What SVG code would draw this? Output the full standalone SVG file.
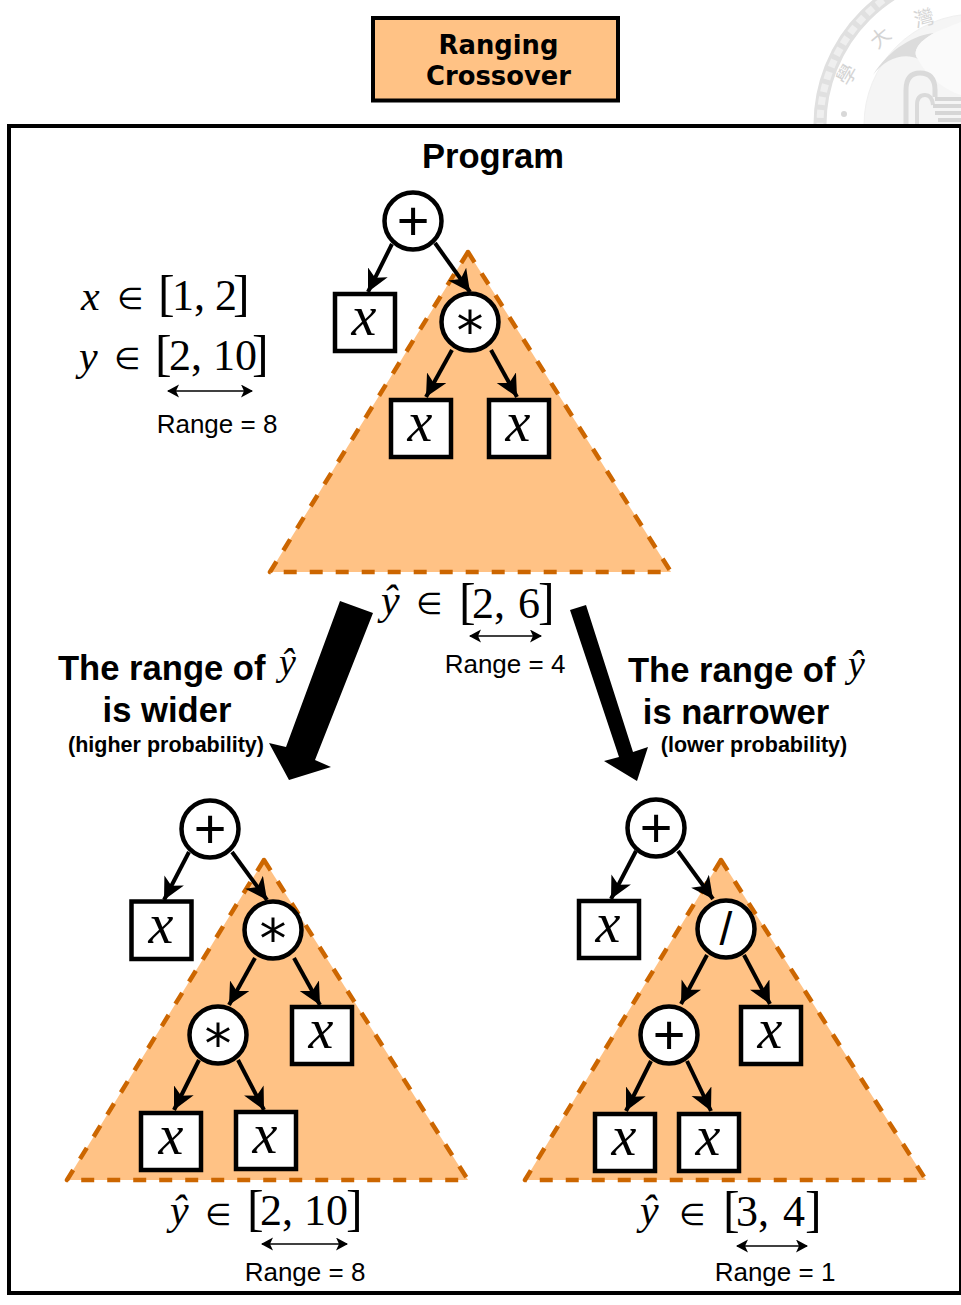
<svg xmlns="http://www.w3.org/2000/svg" width="961" height="1305" viewBox="0 0 961 1305">
<style>
.tri{fill:#FFC285;stroke:#CC6600;stroke-width:4.5;stroke-dasharray:13 13;stroke-linejoin:round}
.c{fill:#fff;stroke:#000;stroke-width:4.5}
.b{fill:#fff;stroke:#000;stroke-width:4.5}
.m{font-family:"Liberation Serif",serif;fill:#000;font-size:44px}
.el{font-family:"DejaVu Sans",sans-serif;fill:#000;font-size:30px}
.br{font-size:50px}
.mi{font-family:"Liberation Serif",serif;font-style:italic;fill:#000;font-size:42px}
.plus{font-family:"Liberation Sans",sans-serif;font-size:56px;text-anchor:middle;fill:#000}
.star{font-family:"DejaVu Sans",sans-serif;font-size:54px;text-anchor:middle;fill:#000}
.div{font-family:"Liberation Sans",sans-serif;font-size:46px;text-anchor:middle;fill:#000}
.var{font-family:"Liberation Serif",serif;font-style:italic;font-size:56px;text-anchor:middle;fill:#000}
.s{font-family:"Liberation Sans",sans-serif;fill:#000;font-size:26px;text-anchor:middle}
.bd{font-family:"Liberation Sans",sans-serif;font-weight:bold;fill:#000;font-size:34.600px}
.sm{font-size:21.500px;text-anchor:middle}
.ttl{font-family:"DejaVu Sans",sans-serif;font-weight:bold;font-size:25.800px;text-anchor:middle;fill:#000}
.hat{font-family:"Liberation Serif",serif;font-style:italic;font-weight:normal;fill:#000;font-size:38px}
.e{stroke:#000;stroke-width:4;fill:none;marker-end:url(#ah)}
.r{stroke:#000;stroke-width:1.7;fill:none;marker-start:url(#sa);marker-end:url(#sa)}
.sl{fill:none;stroke:#e0e0e0}
.sg{font-family:"Noto Sans CJK TC",sans-serif;font-size:20px;fill:#d4d4d4;text-anchor:middle}
</style>
<defs>
<marker id="ah" markerUnits="userSpaceOnUse" markerWidth="26" markerHeight="26" refX="22" refY="11" orient="auto"><path d="M0 0L22 11L0 22L6 11Z" fill="#000"/></marker>
<marker id="sa" markerUnits="userSpaceOnUse" markerWidth="14" markerHeight="14" refX="11" refY="6.500" orient="auto-start-reverse"><path d="M0 0L12 6.500L0 13L3 6.500Z" fill="#000"/></marker>
<clipPath id="top"><rect x="780" y="0" width="181" height="124"/></clipPath>
</defs>
<rect width="961" height="1305" fill="#fff"/>
<g id="seal" clip-path="url(#top)">
<circle class="sl" cx="975" cy="125" r="155" stroke-width="13"/>
<circle class="sl" cx="975" cy="125" r="155" stroke-width="7" stroke-dasharray="8 5" style="stroke:#efefef"/>
<circle cx="975" cy="125" r="111" fill="#f5f5f5" stroke="#f0f0f0" stroke-width="1"/>
<path d="M873 75C890 48 915 35 934 33C918 42 912 52 918 59C905 52 885 58 873 75Z" fill="#dcdcdc"/>
<path d="M934 33C960 22 961 22 961 22V95C945 90 925 75 918 59C912 52 918 42 934 33Z" fill="#fafafa"/>
<path class="sl" d="M906 124V90Q906 73 920 73Q935 73 935 90V97" stroke-width="5" style="stroke:#dadada"/>
<path class="sl" d="M917 124V105Q917 95 925 95Q932 95 933 105" stroke-width="4" style="stroke:#dadada"/>
<path class="sl" d="M935 99H961M933 106H961M935 113H961M938 120H961" stroke-width="4" style="stroke:#d6d6d6"/>
<circle cx="844" cy="114" r="3" fill="#d8d8d8"/>
<text class="sg" transform="translate(853 78) rotate(-60)">學</text>
<text class="sg" transform="translate(885 43) rotate(-40)">大</text>
<text class="sg" transform="translate(926 25) rotate(-15)">灣</text>
</g>
<rect id="frame" x="9" y="126" width="952" height="1167" fill="none" stroke="#000" stroke-width="4"/>
<g id="title"><rect x="373" y="18" width="245" height="82.500" fill="#FFC285" stroke="#000" stroke-width="4"/>
<text class="ttl" x="498.500" y="54">Ranging</text>
<text class="ttl" x="498.500" y="85">Crossover</text></g>
<text id="program" class="bd" x="493" y="168" text-anchor="middle">Program</text>
<polygon class="tri" points="468,252 270,572 671,572"/>
<polygon class="tri" points="264,860 67,1180 468,1180"/>
<polygon class="tri" points="721,860 525,1180 926,1180"/>
<g id="connectors">
<path class="e" d="M392 244L368 292"/><path class="e" d="M435 243L470 292"/><path class="e" d="M452 350L426 397"/><path class="e" d="M491 350L517 397"/>
<path class="e" d="M189 852L164 900"/><path class="e" d="M232 852L267 900"/><path class="e" d="M255 958L229 1005"/><path class="e" d="M294 958L320 1005"/><path class="e" d="M199 1060L174 1110"/><path class="e" d="M238 1060L264 1110"/>
<path class="e" d="M636 851L611 899"/><path class="e" d="M678 851L713 899"/><path class="e" d="M707 955L681 1004"/><path class="e" d="M744 955L770 1004"/><path class="e" d="M651 1061L626 1111"/><path class="e" d="M687 1061L711 1111"/>
<polygon points="340,601 373,613 315,760 331,767 289,780 269,743 286,747" fill="#000"/>
<polygon points="570,610 586,605 633,752 648,747 637,781 604,761 619,757" fill="#000"/>
</g>
<g id="n1"><circle class="c" cx="413" cy="221" r="28.500"/><text class="plus" x="413" y="240">+</text></g>
<g id="n2"><rect class="b" x="335" y="294" width="60" height="57"/><text class="var" x="364" y="335">x</text></g>
<g id="n3"><circle class="c" cx="470" cy="322" r="28.500"/><text class="star" x="470" y="349">*</text></g>
<g id="n4"><rect class="b" x="391" y="400" width="60" height="57"/><text class="var" x="420" y="441">x</text></g>
<g id="n5"><rect class="b" x="489" y="400" width="60" height="57"/><text class="var" x="518" y="441">x</text></g>
<g id="l1"><circle class="c" cx="210" cy="829" r="28.500"/><text class="plus" x="210" y="848">+</text></g>
<g id="l2"><rect class="b" x="131.500" y="901.500" width="60" height="57.500"/><text class="var" x="161" y="943">x</text></g>
<g id="l3"><circle class="c" cx="273" cy="930" r="28.500"/><text class="star" x="273" y="957">*</text></g>
<g id="l4"><circle class="c" cx="218" cy="1035" r="28.500"/><text class="star" x="218" y="1062">*</text></g>
<g id="l5"><rect class="b" x="292" y="1007" width="60" height="57"/><text class="var" x="321" y="1048">x</text></g>
<g id="l6"><rect class="b" x="141" y="1113" width="60" height="57"/><text class="var" x="171" y="1154">x</text></g>
<g id="l7"><rect class="b" x="236" y="1112" width="60" height="57"/><text class="var" x="265" y="1153">x</text></g>
<g id="r1"><circle class="c" cx="656" cy="828" r="28.500"/><text class="plus" x="656" y="847">+</text></g>
<g id="r2"><rect class="b" x="579" y="901" width="60" height="57"/><text class="var" x="608" y="942">x</text></g>
<g id="r3"><circle class="c" cx="726" cy="929" r="28.500"/><text class="div" x="726" y="945">/</text></g>
<g id="r4"><circle class="c" cx="669" cy="1035" r="28.500"/><text class="plus" x="669" y="1054">+</text></g>
<g id="r5"><rect class="b" x="741" y="1007" width="60" height="57"/><text class="var" x="770" y="1048">x</text></g>
<g id="r6"><rect class="b" x="595" y="1114" width="60" height="57"/><text class="var" x="624" y="1155">x</text></g>
<g id="r7"><rect class="b" x="679" y="1114" width="60" height="57"/><text class="var" x="708" y="1155">x</text></g>
<g id="domain">
<text class="mi" x="81" y="310">x</text><text class="el" x="117" y="309">∈</text>
<text class="m" y="310"><tspan class="br" x="158">[</tspan><tspan x="172">1,</tspan><tspan x="215">2</tspan><tspan class="br" x="233">]</tspan></text>
<text class="mi" x="79" y="370">y</text><text class="el" x="114" y="369">∈</text>
<text class="m" y="370"><tspan class="br" x="155">[</tspan><tspan x="169">2,</tspan><tspan x="213">10</tspan><tspan class="br" x="252">]</tspan></text>
<path class="r" d="M168 391H252"/><text class="s" x="217" y="433">Range = 8</text>
</g>
<g id="out0">
<text class="mi" x="381" y="614">ŷ</text><text class="el" x="416" y="614">∈</text>
<text class="m" y="618"><tspan class="br" x="459">[</tspan><tspan x="472">2,</tspan><tspan x="518">6</tspan><tspan class="br" x="538">]</tspan></text>
<path class="r" d="M470 636H541"/><text class="s" x="505" y="673">Range = 4</text>
</g>
<g id="out1">
<text class="mi" x="170" y="1224">ŷ</text><text class="el" x="205" y="1225">∈</text>
<text class="m" y="1225"><tspan class="br" x="247">[</tspan><tspan x="260">2,</tspan><tspan x="304">10</tspan><tspan class="br" x="346">]</tspan></text>
<path class="r" d="M262 1244H347"/><text class="s" x="305" y="1281">Range = 8</text>
</g>
<g id="out2">
<text class="mi" x="640" y="1224">ŷ</text><text class="el" x="679" y="1225">∈</text>
<text class="m" y="1226"><tspan class="br" x="723">[</tspan><tspan x="736">3,</tspan><tspan x="783">4</tspan><tspan class="br" x="805">]</tspan></text>
<path class="r" d="M737 1246H807"/><text class="s" x="775" y="1281">Range = 1</text>
</g>
<g id="labels">
<text class="bd" x="58" y="680">The range of <tspan class="hat" x="279" y="675">ŷ</tspan></text>
<text class="bd" x="167" y="722" text-anchor="middle">is wider</text>
<text class="bd sm" x="166" y="752">(higher probability)</text>
<text class="bd" x="628" y="682">The range of <tspan class="hat" x="848" y="677">ŷ</tspan></text>
<text class="bd" x="736" y="724" text-anchor="middle">is narrower</text>
<text class="bd sm" x="754" y="752">(lower probability)</text>
</g>
</svg>
